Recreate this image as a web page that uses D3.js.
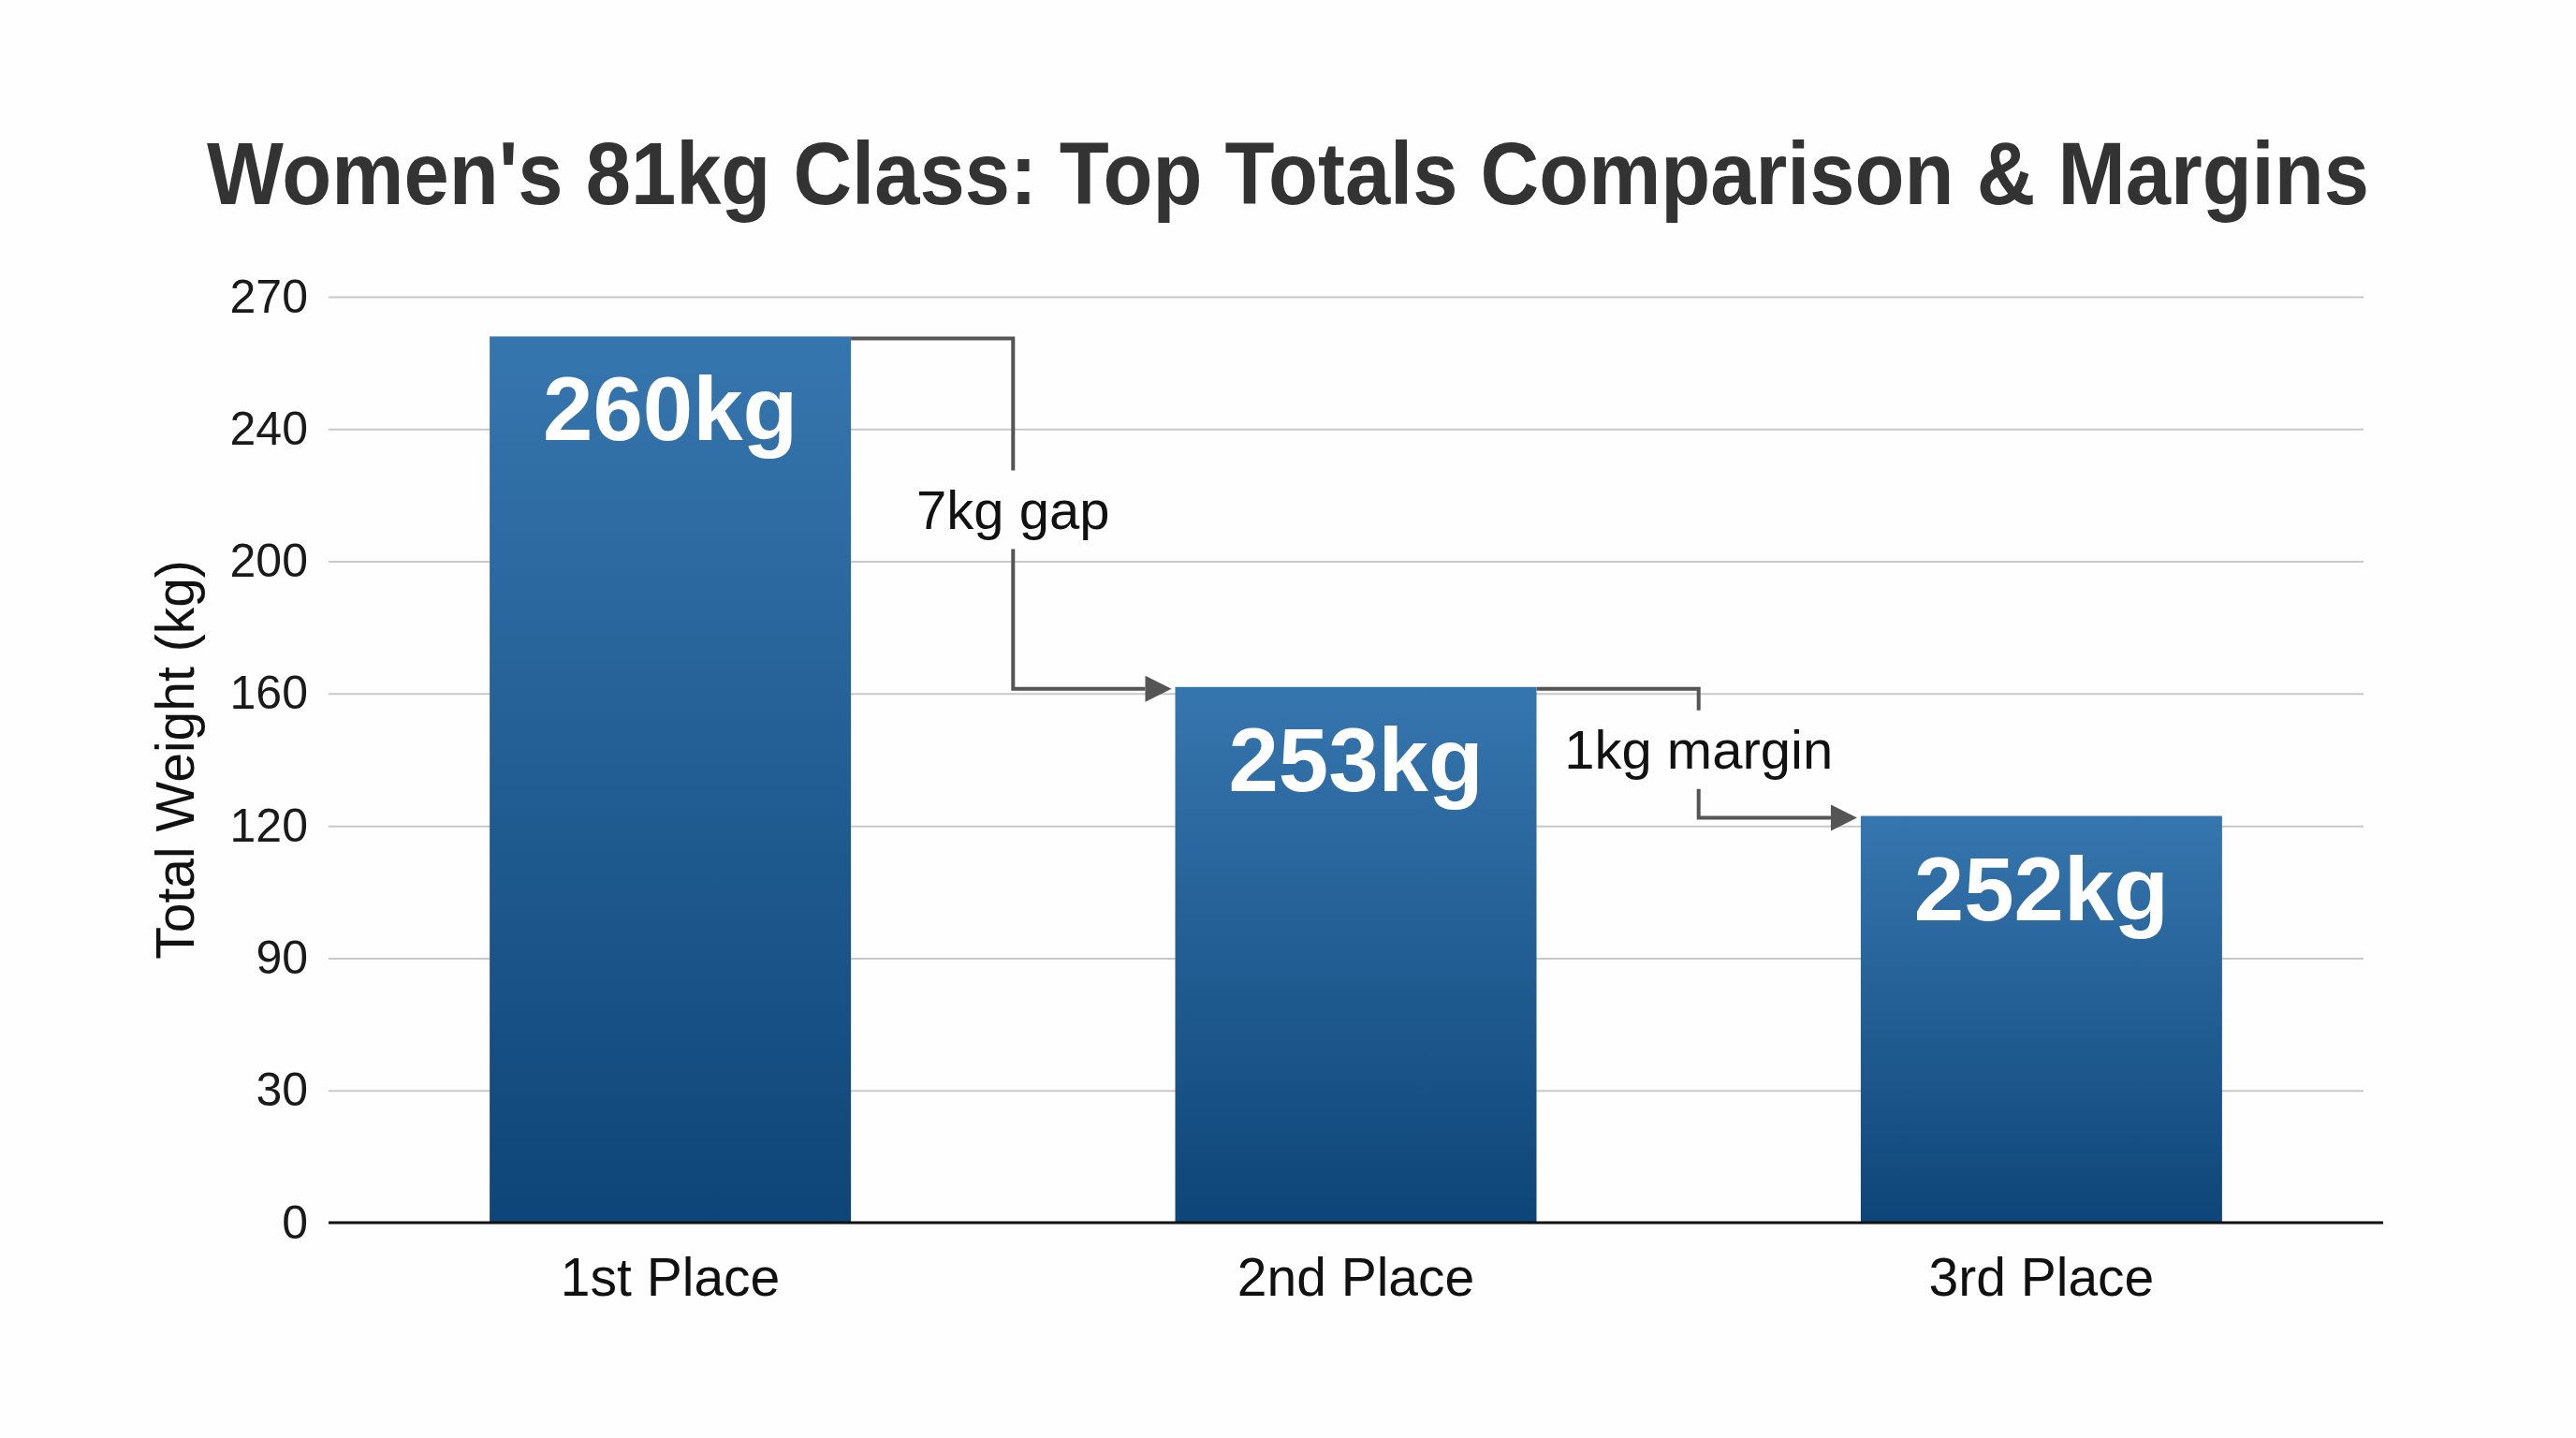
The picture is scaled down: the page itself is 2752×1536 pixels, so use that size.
<!DOCTYPE html>
<html lang="en">
<head>
  <meta charset="UTF-8">
  <title>Women's 81kg Class: Top Totals Comparison & Margins</title>
  <script src="https://d3js.org/d3.v7.min.js"></script>
  <style>
    body {
      margin: 0;
      padding: 0;
      background: #fefefe;
      overflow: hidden;
      font-family: "Liberation Sans", Arial, sans-serif;
    }
  </style>
</head>
<body>
  <svg id="chart" width="2752" height="1536"></svg>

  <script>
    // Chart data
    const places = ["1st Place", "2nd Place", "3rd Place"];
    const totals = [260, 253, 252];            // printed on the bars
    const barHeights = [261, 162, 123];        // where the bar tops sit against the axis
    const yTicks = [0, 30, 90, 120, 160, 200, 240, 270];
    const gapLabels = ["7kg gap", "1kg margin"];

    const svg = d3.select("#chart");
    const width = +svg.attr("width");

    // Plot area
    const plotLeft = 351, plotRight = 2546, gridRight = 2525;
    const plotTop = 317, plotBottom = 1306;

    // Title: the reference face is a little narrower than Liberation Sans,
    // so squeeze it horizontally to the same overall width
    const titleWidth = 2310;
    const title = svg.append("text")
      .attr("text-anchor", "middle")
      .attr("font-size", 94)
      .attr("font-weight", "bold")
      .attr("fill", "#333333")
      .text("Women's 81kg Class: Top Totals Comparison & Margins");
    const natural = title.node().getComputedTextLength();
    const sx = Math.min(1, titleWidth / natural);
    title.attr("transform", `translate(${width / 2},218) scale(${sx},1)`);

    // The tick values are evenly spaced on the axis, so the scale is piecewise
    const y = d3.scaleLinear()
      .domain(yTicks)
      .range(yTicks.map((d, i) => plotBottom - i * (plotBottom - plotTop) / (yTicks.length - 1)));

    const x = d3.scaleBand()
      .domain(places)
      .range([plotLeft, plotRight])
      .paddingInner(0.473)
      .paddingOuter(0.235);

    // Gridlines
    const grid = svg.append("g")
      .attr("transform", `translate(${plotLeft},0)`)
      .call(d3.axisLeft(y).tickValues(yTicks.slice(1)).tickSize(-(gridRight - plotLeft)).tickFormat(""));
    grid.select(".domain").remove();
    grid.selectAll(".tick line").attr("stroke", "#c8c8c8").attr("stroke-width", 2);

    // Y axis labels
    const yAxis = svg.append("g")
      .attr("transform", `translate(${plotLeft},0)`)
      .call(d3.axisLeft(y).tickValues(yTicks).tickSize(0).tickPadding(22));
    yAxis.select(".domain").remove();
    yAxis.selectAll("text")
      .attr("font-family", "Liberation Sans, Arial, sans-serif")
      .attr("font-size", 50)
      .attr("fill", "#1a1a1a");

    svg.append("text")
      .attr("transform", `translate(187,${(plotTop + plotBottom) / 2}) rotate(-90)`)
      .attr("text-anchor", "middle")
      .attr("dominant-baseline", "central")
      .attr("font-size", 57)
      .attr("fill", "#111")
      .text("Total Weight (kg)");

    // Bar gradient
    const grad = svg.append("defs").append("linearGradient")
      .attr("id", "barGrad")
      .attr("x1", 0).attr("y1", 0).attr("x2", 0).attr("y2", 1);
    grad.append("stop").attr("offset", "0%").attr("stop-color", "#3676ae");
    grad.append("stop").attr("offset", "100%").attr("stop-color", "#0e4578");

    // Bars
    svg.selectAll(".bar")
      .data(places)
      .join("rect")
      .attr("class", "bar")
      .attr("x", d => x(d))
      .attr("y", (d, i) => y(barHeights[i]))
      .attr("width", x.bandwidth())
      .attr("height", (d, i) => y(0) - y(barHeights[i]))
      .attr("fill", "url(#barGrad)");

    // Value labels inside the bars
    svg.selectAll(".value")
      .data(places)
      .join("text")
      .attr("class", "value")
      .attr("x", d => x(d) + x.bandwidth() / 2)
      .attr("y", (d, i) => y(barHeights[i]) + 111)
      .attr("text-anchor", "middle")
      .attr("font-size", 96)
      .attr("font-weight", "bold")
      .attr("fill", "#ffffff")
      .text((d, i) => totals[i] + "kg");

    // X axis
    const xAxis = svg.append("g")
      .attr("transform", `translate(0,${plotBottom})`)
      .call(d3.axisBottom(x).tickSize(0).tickPadding(38));
    xAxis.select(".domain").remove();
    xAxis.selectAll("text")
      .attr("font-family", "Liberation Sans, Arial, sans-serif")
      .attr("font-size", 57)
      .attr("fill", "#111");

    svg.append("line")
      .attr("x1", plotLeft).attr("x2", plotRight)
      .attr("y1", y(0)).attr("y2", y(0))
      .attr("stroke", "#111")
      .attr("stroke-width", 3);

    // Step connectors between neighbouring bars
    const arrowLen = 28, arrowHalf = 14, textGap = 42;
    gapLabels.forEach((label, i) => {
      const a = places[i], b = places[i + 1];
      const x0 = x(a) + x.bandwidth();
      const x1 = x(b) - 4;
      const xm = (x0 + x(b)) / 2;
      const y0 = y(barHeights[i]) + 2;
      const y1 = y(barHeights[i + 1]) + 2;
      const ym = (y0 + y1) / 2 - 4;

      const g = svg.append("g");
      g.append("path")
        .attr("d", `M${x0},${y0}H${xm}V${ym - textGap}M${xm},${ym + textGap}V${y1}H${x1 - arrowLen}`)
        .attr("fill", "none")
        .attr("stroke", "#555")
        .attr("stroke-width", 4);
      g.append("path")
        .attr("d", `M${x1 - arrowLen},${y1 - arrowHalf}L${x1},${y1}L${x1 - arrowLen},${y1 + arrowHalf}Z`)
        .attr("fill", "#555");
      g.append("text")
        .attr("x", xm)
        .attr("y", ym)
        .attr("text-anchor", "middle")
        .attr("dominant-baseline", "central")
        .attr("font-size", 58)
        .attr("fill", "#111")
        .text(label);
    });
  </script>
</body>
</html>
